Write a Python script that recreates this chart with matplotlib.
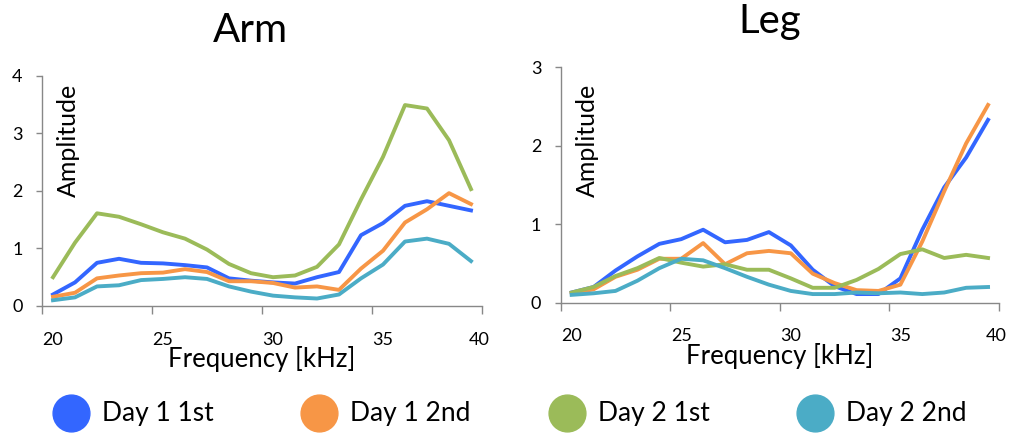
import matplotlib
matplotlib.use("Agg")
import matplotlib.pyplot as plt
import matplotlib.transforms as mtransforms
from matplotlib.lines import Line2D

plt.rcParams['font.family'] = ['Lato', 'DejaVu Sans']

# frequencies in kHz (same for both panels)
freq = [20.5 + i for i in range(20)]

arm_d1_1st = [0.20, 0.41, 0.75, 0.82, 0.75, 0.74, 0.71, 0.67, 0.48, 0.44,
              0.41, 0.39, 0.50, 0.59, 1.23, 1.44, 1.74, 1.82, 1.74, 1.66]
arm_d1_2nd = [0.16, 0.23, 0.48, 0.53, 0.57, 0.58, 0.64, 0.59, 0.43, 0.43,
              0.40, 0.32, 0.34, 0.28, 0.65, 0.96, 1.45, 1.68, 1.96, 1.77]
arm_d2_1st = [0.50, 1.10, 1.61, 1.55, 1.42, 1.28, 1.17, 0.98, 0.73, 0.57,
              0.50, 0.53, 0.68, 1.07, 1.85, 2.59, 3.49, 3.43, 2.88, 2.03]
arm_d2_2nd = [0.10, 0.15, 0.34, 0.36, 0.45, 0.47, 0.50, 0.47, 0.34, 0.25,
              0.18, 0.15, 0.13, 0.20, 0.48, 0.72, 1.12, 1.17, 1.08, 0.78]

leg_d1_1st = [0.13, 0.20, 0.41, 0.59, 0.75, 0.81, 0.93, 0.77, 0.80, 0.90,
              0.73, 0.42, 0.21, 0.11, 0.11, 0.31, 0.93, 1.47, 1.85, 2.33]
leg_d1_2nd = [0.12, 0.17, 0.33, 0.42, 0.56, 0.56, 0.76, 0.49, 0.63, 0.66,
              0.63, 0.37, 0.25, 0.16, 0.15, 0.23, 0.78, 1.42, 2.03, 2.52]
leg_d2_1st = [0.13, 0.20, 0.34, 0.44, 0.57, 0.51, 0.46, 0.49, 0.42, 0.42,
              0.31, 0.19, 0.19, 0.29, 0.43, 0.62, 0.68, 0.57, 0.61, 0.57]
leg_d2_2nd = [0.10, 0.12, 0.15, 0.28, 0.44, 0.56, 0.54, 0.44, 0.33, 0.23,
              0.15, 0.11, 0.11, 0.13, 0.12, 0.13, 0.11, 0.13, 0.19, 0.20]

labels = ["Day 1 1st", "Day 1 2nd", "Day 2 1st", "Day 2 2nd"]
colors = ["#3366FF", "#F79646", "#9BBB59", "#4BACC6"]

W, H = 1009, 434
fig = plt.figure(figsize=(W / 100, H / 100), dpi=100)


def px_axes(left, top, right, bottom):
    return fig.add_axes([left / W, 1 - bottom / H, (right - left) / W, (bottom - top) / H])


def style(ax, ymax, title, title_x, title_y, amp_x):
    ax.set_xlim(20, 40)
    ax.set_ylim(0, ymax)
    ax.set_xticks([20, 25, 30, 35, 40])
    ax.set_yticks(range(ymax + 1))
    for s in ["top", "right"]:
        ax.spines[s].set_visible(False)
    for s in ["left", "bottom"]:
        ax.spines[s].set_color("#888888")
        ax.spines[s].set_linewidth(1.0)
    ax.tick_params(axis="x", direction="out", length=5.5, width=1, color="#888888",
                   labelsize=13, pad=13)
    ax.tick_params(axis="y", direction="out", length=4, width=1, color="#888888",
                   labelsize=13, pad=10)
    # Excel-style shifted x tick labels
    ticklabels = ax.get_xticklabels()
    for i, lab in enumerate(ticklabels):
        dx = 11 if i < len(ticklabels) - 1 else -3
        lab.set_transform(lab.get_transform() +
                          mtransforms.ScaledTranslation(dx / 100, 0, fig.dpi_scale_trans))
    ax.set_xlabel("Frequency [kHz]", fontsize=18.5, labelpad=-1)
    fig.text(amp_x / W, 1 - 140 / H, "Amplitude", rotation=90, fontsize=18,
             ha="center", va="center")
    fig.text(title_x / W, 1 - title_y / H, title, fontsize=29, ha="center", va="center")


ax1 = px_axes(42, 75.7, 482, 306)
for ys, c in zip([arm_d1_1st, arm_d1_2nd, arm_d2_1st, arm_d2_2nd], colors):
    ax1.plot(freq, ys, color=c, lw=2.8)
style(ax1, 4, "Arm", 250, 30, 68)

ax2 = px_axes(560.7, 67.3, 999, 302.7)
for ys, c in zip([leg_d1_1st, leg_d1_2nd, leg_d2_1st, leg_d2_2nd], colors):
    ax2.plot(freq, ys, color=c, lw=2.8)
style(ax2, 3, "Leg", 770, 22, 587)

# legend row
for i, (lab, c) in enumerate(zip(labels, colors)):
    cx = 71 + i * 248
    fig.add_artist(Line2D([cx / W], [1 - 413 / H], marker="o", markersize=26.5,
                          color=c, linestyle="none", transform=fig.transFigure))
    fig.text((cx + 31) / W, 1 - 413 / H, lab, fontsize=19, ha="left", va="center")

fig.savefig("out.png", dpi=100)
